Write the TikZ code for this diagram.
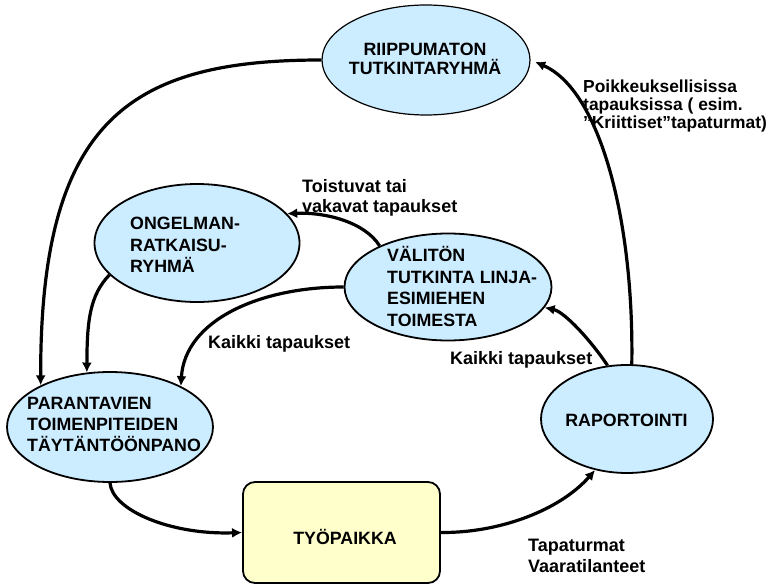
\documentclass[tikz,border=0pt]{standalone}
\usepackage{fontspec}
\setmainfont{Liberation Sans}
\usetikzlibrary{arrows.meta,shapes.geometric}
\definecolor{bluefill}{RGB}{204,236,255}
\definecolor{yelfill}{RGB}{255,255,204}
\begin{document}
\begin{tikzpicture}[x=1pt,y=-1pt,
  ell/.style={ellipse,draw=black,line width=1.8pt,fill=bluefill,inner sep=0pt},
  txt/.style={font=\fontsize{17.8}{21.5}\selectfont\bfseries,inner sep=0pt,align=left},
  lbl/.style={font=\fontsize{18}{20}\selectfont\bfseries,inner sep=0pt,align=left},
  conn/.style={line width=3.2pt,-{Latex[length=10pt,width=10pt]}}]
\useasboundingbox (0,0) rectangle (783,585);
% shapes
\node[ell,line width=1.2pt,minimum width=208pt,minimum height=110pt] (riip) at (426,60) {};
\node[ell,minimum width=205pt,minimum height=118pt] (ong) at (197,243) {};
\node[ell,minimum width=207pt,minimum height=107pt] (val) at (448,287) {};
\node[ell,minimum width=206pt,minimum height=110pt] (par) at (110,427) {};
\node[ell,minimum width=172pt,minimum height=108pt] (rap) at (627,419) {};
\node[draw=black,line width=1.8pt,fill=yelfill,rounded corners=12pt,minimum width=197pt,minimum height=101pt,inner sep=0pt] (ray) at (341.5,532.5) {};
% connectors
\draw[conn] (riip.west) .. controls (130,60) and (40,120) .. (par.149);
\draw[conn] (ong.200) .. controls (90,295) and (87,320) .. (par.113);
\draw[conn] (val.west) .. controls (260,287) and (185,320) .. (par.30);
\draw[conn] (val.149) .. controls (365,222) and (325,212) .. (ong.18);
\draw[conn] (rap.110) .. controls (592,342) and (565,312) .. (val.-12);
\draw[conn,shorten >=5pt] (rap.85) .. controls (634,220) and (600,90) .. (riip.east);
\draw[conn] (par.south) .. controls (112,510) and (170,535) .. (ray.west);
\draw[conn] (ray.east) .. controls (500,533) and (560,510) .. (rap.238);
% node texts
\node[txt,font=\fontsize{17.8}{19}\selectfont\bfseries,align=center,anchor=north] (riipt) at (425,43) {RIIPPUMATON\\TUTKINTARYHMÄ};
\node[txt,anchor=north west] (ongt) at (130,217) {ONGELMAN-\\RATKAISU-\\RYHMÄ};
\node[txt,font=\fontsize{17.8}{21.7}\selectfont\bfseries,anchor=north west] (valt) at (387,246) {VÄLITÖN\\TUTKINTA LINJA-\\ESIMIEHEN\\TOIMESTA};
\node[txt,font=\fontsize{17.8}{21}\selectfont\bfseries,anchor=north west] (part) at (27,397.5) {PARANTAVIEN\\TOIMENPITEIDEN\\TÄYTÄNTÖÖNPANO};
\node[txt,anchor=base] (rapt) at (626.5,426) {RAPORTOINTI};
\node[txt,anchor=base] (rayt) at (345,544) {TYÖPAIKKA};
% labels
\node[lbl,font=\fontsize{17.4}{18}\selectfont\bfseries,anchor=north west] (poik) at (583,79.5) {Poikkeuksellisissa\\tapauksissa ( esim.\\”Kriittiset”tapaturmat)};
\node[lbl,anchor=north west] (tois) at (302,179) {Toistuvat tai\\vakavat tapaukset};
\node[lbl,anchor=base west] (kaik1) at (208,348) {Kaikki tapaukset};
\node[lbl,anchor=base west] (kaik2) at (450,364) {Kaikki tapaukset};
\node[lbl,font=\fontsize{18}{21}\selectfont\bfseries,anchor=north west] (tapa) at (528,539) {Tapaturmat\\Vaaratilanteet};
\end{tikzpicture}
\end{document}
